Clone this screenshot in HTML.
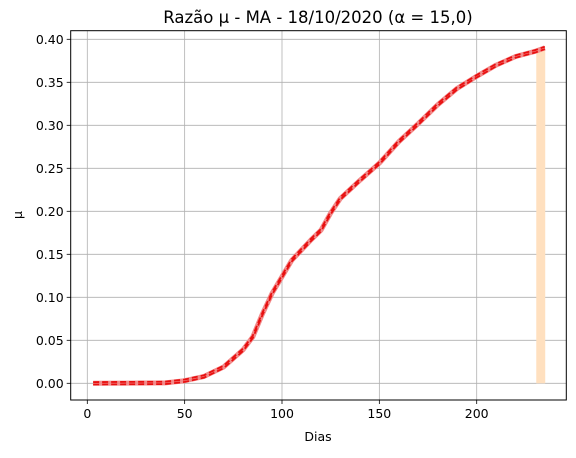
<!DOCTYPE html>
<html><head><meta charset="utf-8"><style>
body{margin:0;background:#fff;}
svg text{font-family:"DejaVu Sans","Liberation Sans",sans-serif;fill:#000;}
</style></head><body>
<svg width="576" height="453" viewBox="0 0 576 453" xmlns="http://www.w3.org/2000/svg">
<g id="grid"></g>
<g id="marks"></g>
<rect x="70.7" y="30.7" width="495.6" height="369.3" fill="none" stroke="#000" stroke-width="1"/>
<g id="axes"></g>
<text x="318" y="23" font-size="16.5" text-anchor="middle">Razão μ - MA - 18/10/2020 (α = 15,0)</text>
<text x="318" y="441" font-size="12.5" text-anchor="middle">Dias</text>
<text x="22" y="215" font-size="12.5" text-anchor="middle" transform="rotate(-90 22 215)">μ</text>
</svg>
<script>
const days = [3,40,50,60,70,80,85,90,95,100,105,110,115,120,125,130,140,150,160,170,180,190,200,210,220,230,235];
const mu = [0,0.0005,0.003,0.008,0.019,0.039,0.054,0.081,0.105,0.124,0.143,0.155,0.167,0.178,0.198,0.215,0.236,0.256,0.281,0.302,0.324,0.343,0.357,0.370,0.380,0.386,0.390];
const xTicks = [0,50,100,150,200];
const yTicks = [0,0.05,0.10,0.15,0.20,0.25,0.30,0.35,0.40];
const yTickLabels = ["0.00","0.05","0.10","0.15","0.20","0.25","0.30","0.35","0.40"];
const barStart = 230.6, barEnd = 235.2, barValue = 0.388;

const L=70.7,R=566.3,T=30.7,B=400;
const xs = d => 87.3 + d*1.947;
const ys = v => 383.3 - v*860;
const NS="http://www.w3.org/2000/svg";
function mk(tag, attrs, parent){const e=document.createElementNS(NS,tag);for(const k in attrs)e.setAttribute(k,attrs[k]);parent.appendChild(e);return e;}
const grid=document.getElementById('grid'), axes=document.getElementById('axes'), marks=document.getElementById('marks');
xTicks.forEach(t=>{
  const x=xs(t);
  const g=mk('line',{x1:x,x2:x,y1:T,y2:B,stroke:'#b0b0b0','stroke-width':0.8},grid);
  
  
  const tk=mk('line',{x1:x,x2:x,y1:B,y2:B+4,stroke:'#000','stroke-width':0.8},axes);
  
  
  const lb=mk('text',{x:x,y:B+18,'font-size':12.5,'text-anchor':'middle'},axes);
  lb.textContent=t;
  
  
});
yTicks.forEach((t,i)=>{
  const y=ys(t);
  const g=mk('line',{x1:L,x2:R,y1:y,y2:y,stroke:'#b0b0b0','stroke-width':0.8},grid);
  
  
  const tk=mk('line',{x1:L-4,x2:L,y1:y,y2:y,stroke:'#000','stroke-width':0.8},axes);
  
  
  const lb=mk('text',{x:L-7,y:y+4.5,'font-size':12.5,'text-anchor':'end'},axes);
  lb.textContent=yTickLabels[i];
  
  
});
const bar=mk('rect',{x:xs(barStart),y:ys(barValue),width:xs(barEnd)-xs(barStart),height:ys(0)-ys(barValue),fill:'#ffe0bf'},marks);


const pts=(off)=>days.map((d,i)=>xs(d)+','+(ys(mu[i])+off)).join(' ');
const band=mk('polyline',{points:pts(0),fill:'none',stroke:'#f28b8b','stroke-width':5,'stroke-linejoin':'round'},marks);


[-1.2,1.2].forEach(o=>{
  const l=mk('polyline',{points:pts(o),fill:'none',stroke:'#e81010','stroke-width':1.8,'stroke-dasharray':'6,3'},marks);
  
  
});
</script>
</body></html>
